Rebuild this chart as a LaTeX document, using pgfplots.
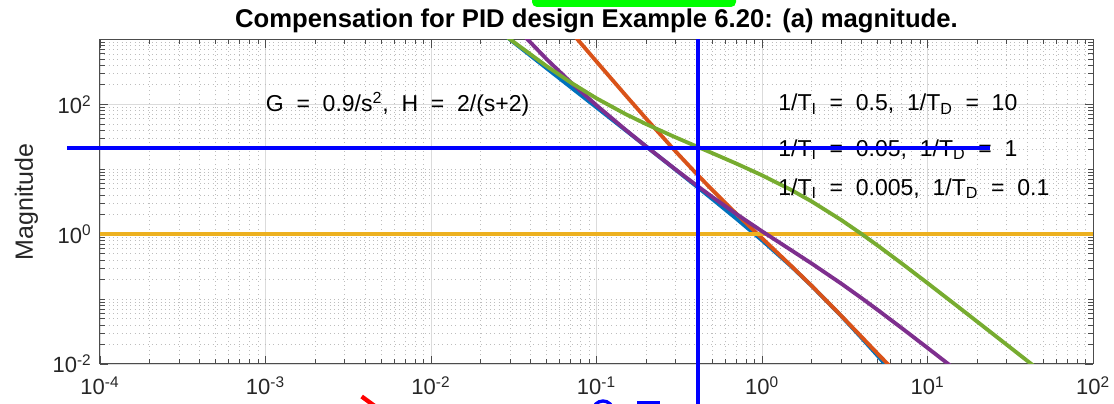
\documentclass[border=0pt]{standalone}
\usepackage{fontspec}
\setmainfont{Liberation Sans}
\usepackage{pgfplots}
\pgfplotsset{compat=1.18}
\usepackage{pgfplotstable}
\definecolor{mblue}{rgb}{0,0.447,0.741}
\definecolor{morange}{rgb}{0.85,0.325,0.098}
\definecolor{myellow}{rgb}{0.929,0.694,0.125}
\definecolor{mpurple}{rgb}{0.494,0.184,0.556}
\definecolor{mgreen}{rgb}{0.466,0.674,0.188}
\definecolor{annblue}{rgb}{0,0,1}

\pgfplotstableread{
w mag
0.02 2250
0.03 1000
0.05 359.9
0.07 183.56
0.1 89.89
0.15 39.89
0.2 22.39
0.3 9.889
0.4 5.516
0.5 3.4925
0.7 1.7336
1 0.80498
1.5 0.32
2 0.1591
3 0.05547
4 0.025156
5 0.01337
7 0.0050458
10 0.0017651
}\bluedata

\pgfplotstableread{
w mag
0.05 3615
0.07 1322.7
0.1 457.5
0.15 138.25
0.2 59.87
0.3 18.97
0.4 8.659
0.5 4.817
0.7 2.0623
1 0.867
1.5 0.32533
2 0.1593
3 0.05596
4 0.02609
5 0.0144
7 0.00596
}\orangedata

\pgfplotstableread{
w mag
0.02 6017
0.03 1918
0.05 496.4
0.07 218.36
0.1 96.81
0.15 40.56
0.2 22.42
0.3 9.977
0.4 5.721
0.5 3.7615
0.7 2.0476
1 1.1103
1.5 0.56805
2 0.35221
3 0.17453
4 0.10342
5 0.068043
7 0.035644
10 0.01773
15 0.0079456
}\purpledata

\pgfplotstableread{
w mag
0.02 2252.8
0.03 1008.9
0.05 387.6
0.07 216.81
0.1 123.99
0.15 70.81
0.2 49.565
0.3 31.115
0.4 22.676
0.5 17.774
0.7 12.246
1 8.0859
1.5 4.8096
2 3.1856
3 1.6649
4 1.00652
5 0.66862
7 0.35324
10 0.17652
15 0.079299
20 0.044779
30 0.019956
50 0.007194
}\greendata

\newcommand{\dsp}{\hspace{0.556em}}

\begin{document}
\begin{tikzpicture}
\useasboundingbox (-60pt,-24pt) rectangle (608.4pt,218.4pt);
\clip (-60pt,-24pt) rectangle (608.4pt,218.4pt);
\begin{axis}[
  at={(0,0)}, anchor=south west,
  width=595.8pt, height=194.7pt, scale only axis,
  xmode=log, ymode=log,
  xmin=1e-4, xmax=1e2, ymin=1e-2, ymax=1e3,
  xtick={1e-4,1e-3,1e-2,1e-1,1,10,100},
  xticklabels={10\textsuperscript{-4},10\textsuperscript{-3},10\textsuperscript{-2},10\textsuperscript{-1},10\textsuperscript{0},10\textsuperscript{1},10\textsuperscript{2}},
  ytick={1e-2,1,1e2},
  yticklabels={10\textsuperscript{-2},10\textsuperscript{0},10\textsuperscript{2}},
  minor xtick={2e-4,3e-4,4e-4,5e-4,6e-4,7e-4,8e-4,9e-4,
    2e-3,3e-3,4e-3,5e-3,6e-3,7e-3,8e-3,9e-3,
    2e-2,3e-2,4e-2,5e-2,6e-2,7e-2,8e-2,9e-2,
    0.2,0.3,0.4,0.5,0.6,0.7,0.8,0.9,
    2,3,4,5,6,7,8,9,
    20,30,40,50,60,70,80,90},
  minor ytick={0.02,0.03,0.04,0.05,0.06,0.07,0.08,0.09,0.1,
    0.2,0.3,0.4,0.5,0.6,0.7,0.8,0.9,
    2,3,4,5,6,7,8,9,10,
    20,30,40,50,60,70,80,90,
    200,300,400,500,600,700,800,900},
  grid=both,
  major grid style={black!14, line width=0.5pt},
  minor grid style={black!26, line width=0.45pt, dash pattern=on 0.6pt off 2pt},
  tick align=inside,
  major tick length=5pt, minor tick length=3pt,
  axis line style={black!70, line width=0.6pt},
  every tick/.style={black!70, line width=0.5pt},
  ticklabel style={font=\fontsize{13.2pt}{15pt}\selectfont, text=black!85},
  xticklabel style={yshift=-4pt},
  yticklabel style={xshift=-1.5pt},
  title={Compensation for PID design Example 6.20: (a) magnitude.},
  title style={at={(axis description cs:0.5,1)}, anchor=base, yshift=1.2pt,
    font=\bfseries\fontsize{15.4pt}{18pt}\selectfont},
  ylabel={Magnitude},
  ylabel style={at={(axis description cs:-0.0675,0.5)}, anchor=base, rotate=0,
    font=\fontsize{15pt}{18pt}\selectfont, text=black!85},
  clip mode=individual,
  every axis plot/.append style={line width=2.3pt},
]
\addplot[mblue] table[x=w,y=mag] {\bluedata};
\addplot[morange] table[x=w,y=mag] {\orangedata};
\addplot[myellow] coordinates {(1e-4,1) (1e2,1)};
\addplot[mpurple] table[x=w,y=mag] {\purpledata};
\addplot[mgreen] table[x=w,y=mag] {\greendata};

\node[anchor=west, font=\fontsize{13.8pt}{16pt}\selectfont, inner sep=0pt] at (axis cs:1e-3,100)
  {G\dsp=\dsp0.9/s\textsuperscript{2},\dsp H\dsp=\dsp2/(s+2)};
\node[anchor=west, font=\fontsize{13.8pt}{16pt}\selectfont, inner sep=0pt] at (axis cs:1.25,100)
  {1/T\textsubscript{I}\dsp=\dsp0.5,\dsp1/T\textsubscript{D}\dsp=\dsp10};
\node[anchor=west, font=\fontsize{13.8pt}{16pt}\selectfont, inner sep=0pt] at (axis cs:1.25,20)
  {1/T\textsubscript{I}\dsp=\dsp0.05,\dsp1/T\textsubscript{D}\dsp=\dsp1};
\node[anchor=west, font=\fontsize{13.8pt}{16pt}\selectfont, inner sep=0pt] at (axis cs:1.25,5)
  {1/T\textsubscript{I}\dsp=\dsp0.005,\dsp1/T\textsubscript{D}\dsp=\dsp0.1};

\coordinate (hl) at (axis cs:6.32e-5,21.6);
\coordinate (hr) at (axis cs:23.9,21.6);
\coordinate (vt) at (axis cs:0.409,1e3);
\coordinate (vb) at (axis cs:0.409,1e-3);
\end{axis}
\draw[annblue, line width=2.4pt] (hl) -- (hr);
\draw[annblue, line width=2.4pt] (vt) -- (vb);
\fill[green, rounded corners=3pt] (259.2pt,214.2pt) rectangle (381.6pt,232pt);
\draw[red, line width=2.6pt] (157pt,-19.5pt) -- (170pt,-29pt);
\draw[annblue, line width=2pt] (301.8pt,-28.2pt) circle (6pt);
\fill[annblue] (322pt,-22.4pt) rectangle (336pt,-26pt);
\end{tikzpicture}
\end{document}
